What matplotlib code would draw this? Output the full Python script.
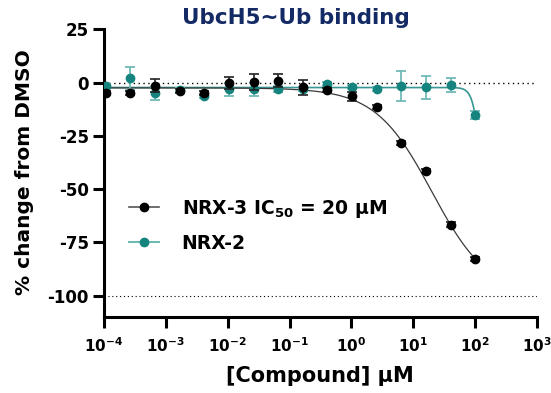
import numpy as np
import matplotlib
matplotlib.use('Agg')
from matplotlib import pyplot as plt
from matplotlib.lines import Line2D

plt.rcParams['font.family'] = 'DejaVu Sans'
plt.rcParams['font.weight'] = 'bold'
plt.rcParams['mathtext.fontset'] = 'dejavusans'

# 2.5-fold dilution series, uM
conc = [1.07e-4, 2.68e-4, 6.71e-4, 1.68e-3, 4.19e-3, 1.05e-2, 2.62e-2, 6.55e-2,
        0.164, 0.410, 1.024, 2.56, 6.4, 16.0, 40.0, 100.0]

nrx3_mean = [-5.0, -5.0, -1.5, -3.9, -5.0, 0.0, 0.3, 0.9,
             -2.3, -3.4, -6.5, -11.4, -28.5, -41.4, -66.6, -82.7]
nrx3_err = [1.0, 1.0, 3.0, 1.0, 1.0, 2.8, 3.6, 3.1,
            3.5, 1.0, 2.0, 1.0, 1.0, 1.0, 1.0, 1.0]

nrx2_mean = [-1.6, 2.0, -5.0, -3.5, -6.2, -3.1, -3.1, -3.1,
             -3.0, -0.5, -2.0, -3.1, -1.6, -2.3, -1.2, -15.3]
nrx2_err = [1.0, 5.3, 3.0, 1.0, 1.0, 3.0, 3.0, 1.5,
            1.0, 1.0, 1.0, 1.0, 7.0, 5.5, 3.3, 2.0]

# four-parameter logistic fits: top, bottom, IC50 (uM), hill slope
nrx3_fit = [-2.5, -100.0, 20.0, 0.95]
nrx2_fit = [-2.3, -100.0, 132.0, 6.7]

xticks = [1e-4, 1e-3, 1e-2, 1e-1, 1e0, 1e1, 1e2, 1e3]
xticklabels = [r'$\mathbf{10^{-4}}$', r'$\mathbf{10^{-3}}$', r'$\mathbf{10^{-2}}$',
               r'$\mathbf{10^{-1}}$', r'$\mathbf{10^{0}}$', r'$\mathbf{10^{1}}$',
               r'$\mathbf{10^{2}}$', r'$\mathbf{10^{3}}$']
yticks = [25, 0, -25, -50, -75, -100]

black = '#000000'
teal = '#15837e'
teal_light = '#6fbab6'


def logistic(x, p):
    top, bottom, ic50, hill = p
    return bottom + (top - bottom) / (1 + (x / ic50) ** hill)


fig = plt.figure(figsize=(5.51, 3.93), dpi=100)
ax = fig.add_axes([104 / 551, 1 - 317 / 393, (537 - 104) / 551, (317 - 29.3) / 393])

ax.axhline(0, color='black', lw=1, ls=(0, (1, 2.5)), zorder=1)
ax.axhline(-100, color='black', lw=0.8, ls=(0, (1, 2.5)), zorder=1)

xs = np.logspace(np.log10(conc[0]), np.log10(conc[-1]), 400)
ax.plot(xs, logistic(xs, nrx2_fit), color=teal, lw=1.2, alpha=0.85, zorder=2)
ax.plot(xs, logistic(xs, nrx3_fit), color='#3a3a3a', lw=0.9, zorder=3)

ax.errorbar(conc, nrx2_mean, yerr=nrx2_err, fmt='o', color=teal, ms=6,
            ecolor=teal_light, elinewidth=1.3, capsize=3.5, capthick=1.3, zorder=4)
ax.errorbar(conc, nrx3_mean, yerr=nrx3_err, fmt='o', color=black, ms=6,
            ecolor='#222222', elinewidth=1.2, capsize=3.5, capthick=1.2, zorder=5)

ax.set_xscale('log')
ax.set_xlim(1e-4, 1e3)
ax.set_ylim(-110, 25)
ax.set_xticks(xticks)
ax.set_xticklabels(xticklabels, fontsize=11)
ax.minorticks_off()
ax.set_yticks(yticks)
ax.set_yticklabels([str(v) for v in yticks], fontsize=12, fontweight='bold')

for s in ['top', 'right']:
    ax.spines[s].set_visible(False)
for s in ['left', 'bottom']:
    ax.spines[s].set_linewidth(2.2)
ax.spines['left'].set_bounds(-110, 25)
ax.tick_params(width=2.2, length=8)
ax.tick_params(axis='y', pad=3)
ax.tick_params(axis='x', pad=6)

handles = [
    Line2D([], [], color='#555555', lw=1.2, marker='o', ms=6,
           markerfacecolor=black, markeredgecolor=black),
    Line2D([], [], color=teal_light, lw=1.5, marker='o', ms=6,
           markerfacecolor=teal, markeredgecolor=teal),
]
labels = [r'NRX-3 IC$_\mathbf{50}$ = 20 µM', 'NRX-2']
fig.legend(handles, labels, loc='upper left', bbox_to_anchor=(129 / 551, 1 - 198 / 393),
           frameon=False, fontsize=13.5, handlelength=1.6, handletextpad=1.2,
           labelspacing=0.75, borderpad=0, borderaxespad=0)

fig.text(296 / 551, 1 - 18 / 393, 'UbcH5~Ub binding', color='#132a64',
         fontsize=15.5, fontweight='bold', ha='center', va='center')
fig.text(25 / 551, 1 - 172 / 393, '% change from DMSO', fontsize=14.5,
         fontweight='bold', rotation=90, ha='center', va='center')
fig.text(320 / 551, 1 - 376 / 393, '[Compound] µM', fontsize=15,
         fontweight='bold', ha='center', va='center')

fig.savefig('out.png', dpi=100)
